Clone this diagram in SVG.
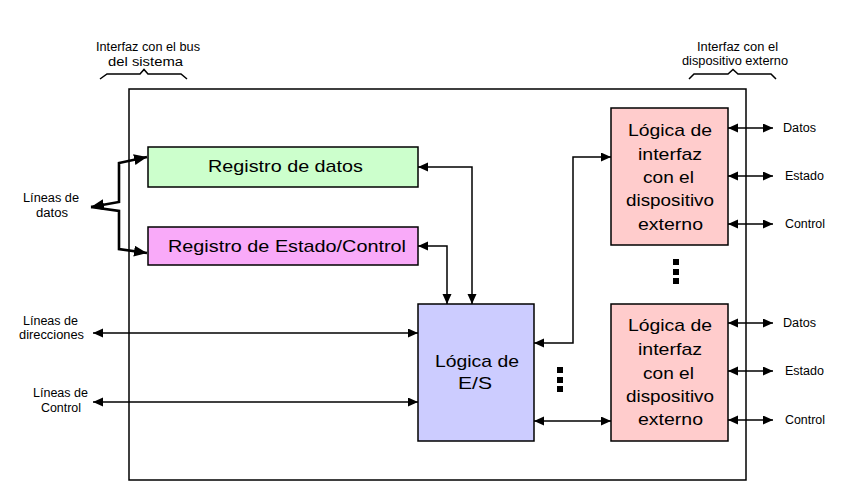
<svg xmlns="http://www.w3.org/2000/svg" width="849" height="493" viewBox="0 0 849 493">
<style>
.box{stroke:#000;stroke-width:1.5}
.big{font-family:"Liberation Sans",Arial,sans-serif;font-size:17px;fill:#000;text-anchor:middle}
.sm{font-family:"Liberation Sans",Arial,sans-serif;font-size:12px;fill:#000}
.c{text-anchor:middle}
.ln{fill:none;stroke:#000;stroke-width:1.5}
.thick{fill:none;stroke:#000;stroke-width:2.6}
.dot{fill:#000}
</style>
<defs>
<marker id="a" markerUnits="userSpaceOnUse" markerWidth="11" markerHeight="10" refX="10" refY="4.5" orient="auto-start-reverse"><path d="M0,0 L10,4.5 L0,9 z" fill="#000"/></marker>
<marker id="b" markerUnits="userSpaceOnUse" markerWidth="14" markerHeight="12" refX="13" refY="5.5" orient="auto-start-reverse"><path d="M0,0 L13,5.5 L0,11 z" fill="#000"/></marker>
</defs>
<rect width="849" height="493" fill="#fff"/>
<g id="module"><rect x="129" y="89" width="617" height="391" fill="none" stroke="#000" stroke-width="1.5"/></g>
<g id="bus-label">
<text class="sm c" x="148" y="51" textLength="104" lengthAdjust="spacingAndGlyphs">Interfaz con el bus</text>
<text class="sm c" x="145.5" y="66" textLength="75" lengthAdjust="spacingAndGlyphs">del sistema</text>
<path class="ln" d="M100,79 L107,74 L140,74 L144,69.5 L148,74 L181,74 L187,79"/>
</g>
<g id="dev-label">
<text class="sm c" x="737.5" y="51" textLength="81" lengthAdjust="spacingAndGlyphs">Interfaz con el</text>
<text class="sm c" x="735" y="65" textLength="106" lengthAdjust="spacingAndGlyphs">dispositivo externo</text>
<path class="ln" d="M689,79 L694,74 L728,74 L733,69.5 L738,74 L771,74 L776,79"/>
</g>
<g id="reg-datos">
<rect class="box" x="148" y="147" width="270" height="40" fill="#CCFFCC"/>
<text class="big" x="285.5" y="172" textLength="155" lengthAdjust="spacingAndGlyphs">Registro de datos</text>
</g>
<g id="reg-estado">
<rect class="box" x="148" y="227" width="270" height="38" fill="#F9AAF9"/>
<text class="big" x="287" y="252" textLength="238" lengthAdjust="spacingAndGlyphs">Registro de Estado/Control</text>
</g>
<g id="logica-es">
<rect class="box" x="418" y="304" width="116" height="137" fill="#CCCCFF"/>
<text class="big" x="477" y="366.5" textLength="84" lengthAdjust="spacingAndGlyphs">Lógica de</text>
<text class="big" x="475" y="389" textLength="34" lengthAdjust="spacingAndGlyphs">E/S</text>
</g>
<g id="ext1">
<rect class="box" x="611" y="108" width="117" height="137" fill="#FFCCCC"/>
<text class="big" x="670" y="136" textLength="84" lengthAdjust="spacingAndGlyphs">Lógica de</text>
<text class="big" x="670" y="159.5" textLength="64" lengthAdjust="spacingAndGlyphs">interfaz</text>
<text class="big" x="668.5" y="183" textLength="51" lengthAdjust="spacingAndGlyphs">con el</text>
<text class="big" x="670" y="206" textLength="88" lengthAdjust="spacingAndGlyphs">dispositivo</text>
<text class="big" x="670.5" y="229.5" textLength="65" lengthAdjust="spacingAndGlyphs">externo</text>
</g>
<g id="ext2">
<rect class="box" x="611" y="304" width="117" height="137" fill="#FFCCCC"/>
<text class="big" x="670" y="331" textLength="84" lengthAdjust="spacingAndGlyphs">Lógica de</text>
<text class="big" x="670" y="355" textLength="64" lengthAdjust="spacingAndGlyphs">interfaz</text>
<text class="big" x="668.5" y="378.5" textLength="51" lengthAdjust="spacingAndGlyphs">con el</text>
<text class="big" x="670" y="402" textLength="88" lengthAdjust="spacingAndGlyphs">dispositivo</text>
<text class="big" x="670.5" y="425" textLength="65" lengthAdjust="spacingAndGlyphs">externo</text>
</g>
<g id="left-labels">
<text class="sm c" x="51" y="202" textLength="56" lengthAdjust="spacingAndGlyphs">Líneas de</text>
<text class="sm c" x="52" y="217" textLength="32" lengthAdjust="spacingAndGlyphs">datos</text>
<text class="sm c" x="50.5" y="325" textLength="55" lengthAdjust="spacingAndGlyphs">Líneas de</text>
<text class="sm c" x="51.5" y="339" textLength="65" lengthAdjust="spacingAndGlyphs">direcciones</text>
<text class="sm c" x="60.5" y="397" textLength="55" lengthAdjust="spacingAndGlyphs">Líneas de</text>
<text class="sm c" x="61" y="412" textLength="40" lengthAdjust="spacingAndGlyphs">Control</text>
</g>
<g id="right-labels">
<text class="sm" x="783" y="132" textLength="33" lengthAdjust="spacingAndGlyphs">Datos</text>
<text class="sm" x="785" y="180" textLength="39" lengthAdjust="spacingAndGlyphs">Estado</text>
<text class="sm" x="785" y="228" textLength="40" lengthAdjust="spacingAndGlyphs">Control</text>
<text class="sm" x="783" y="327" textLength="33" lengthAdjust="spacingAndGlyphs">Datos</text>
<text class="sm" x="785" y="375" textLength="39" lengthAdjust="spacingAndGlyphs">Estado</text>
<text class="sm" x="785" y="424" textLength="40" lengthAdjust="spacingAndGlyphs">Control</text>
</g>
<g id="dots">
<rect class="dot" x="673" y="259" width="6" height="6"/>
<rect class="dot" x="673" y="269" width="6" height="6"/>
<rect class="dot" x="673" y="278" width="6" height="6"/>
<rect class="dot" x="557" y="367" width="6" height="6"/>
<rect class="dot" x="557" y="377" width="6" height="6"/>
<rect class="dot" x="557" y="386" width="6" height="6"/>
</g>
<g id="connectors">
<path class="thick" d="M91,207 L119,202 L119,163 L147,157" marker-start="url(#b)" marker-end="url(#b)"/>
<path class="thick" d="M91,207 L119,211 L119,249 L147,253" marker-end="url(#b)"/>
<path class="ln" d="M93,333 L418,333" marker-start="url(#a)" marker-end="url(#a)"/>
<path class="ln" d="M93,402 L418,402" marker-start="url(#a)" marker-end="url(#a)"/>
<path class="ln" d="M418,167 L472,167 L472,304" marker-start="url(#a)" marker-end="url(#a)"/>
<path class="ln" d="M418,246 L447,246 L447,304" marker-start="url(#a)" marker-end="url(#a)"/>
<path class="ln" d="M534,343 L573,343 L573,157 L611,157" marker-start="url(#a)" marker-end="url(#a)"/>
<path class="ln" d="M534,421 L611,421" marker-start="url(#a)" marker-end="url(#a)"/>
<path class="ln" d="M728,128 L773,128" marker-start="url(#a)" marker-end="url(#a)"/>
<path class="ln" d="M728,176 L773,176" marker-start="url(#a)" marker-end="url(#a)"/>
<path class="ln" d="M728,224 L773,224" marker-start="url(#a)" marker-end="url(#a)"/>
<path class="ln" d="M728,323 L773,323" marker-start="url(#a)" marker-end="url(#a)"/>
<path class="ln" d="M728,371 L773,371" marker-start="url(#a)" marker-end="url(#a)"/>
<path class="ln" d="M728,420 L773,420" marker-start="url(#a)" marker-end="url(#a)"/>
</g>
</svg>
